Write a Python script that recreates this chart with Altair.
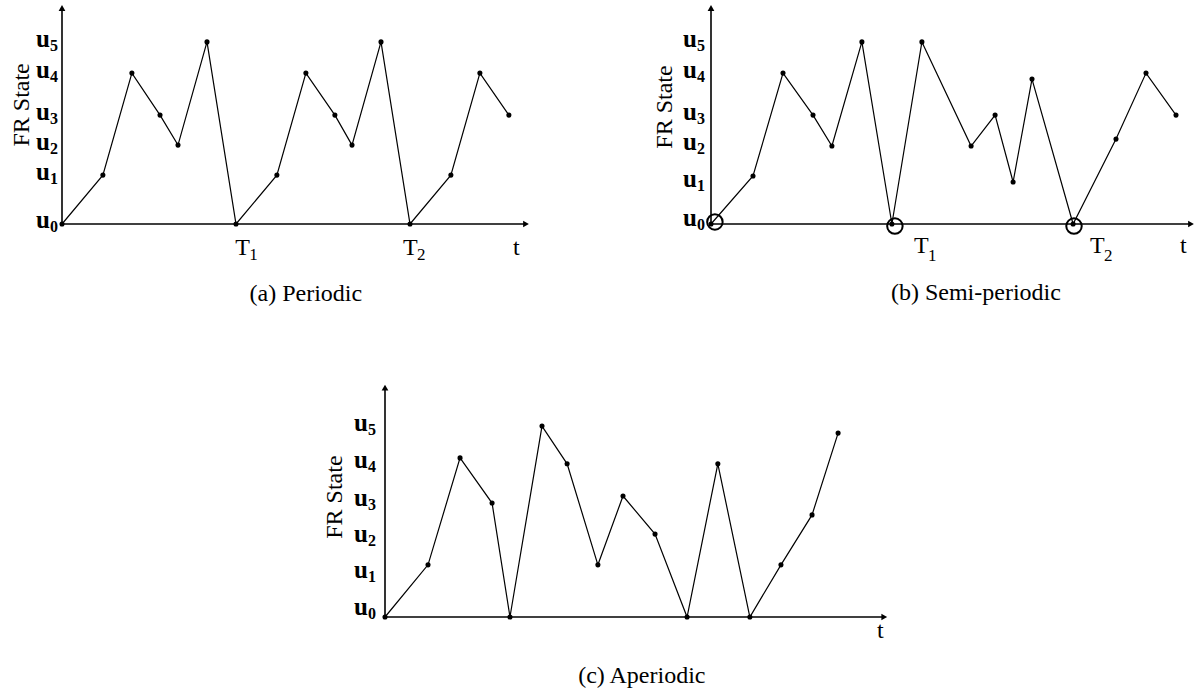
import altair as alt
import pandas as pd

FONT = "Liberation Serif"

# ---------------- data ----------------
# (a) Periodic
a_t = [0, 1.41, 2.41, 3.38, 4.0, 5.0, 6.0, 7.41, 8.41, 9.41, 10.0, 11.0, 12.0, 13.41, 14.41, 15.41]
a_v = [0, 1.63, 5.03, 3.63, 2.63, 6.07, 0, 1.63, 5.03, 3.63, 2.63, 6.07, 0, 1.63, 5.03, 3.63]
a_ticks = [0.03, 1.63, 2.63, 3.63, 5.03, 6.07]
a_tlab_t = [5.97, 11.76, 15.55]

# (b) Semi-periodic
b_t = [0, 1.4, 2.4, 3.4, 4.03, 5.03, 6.03, 7.03, 8.67, 9.47, 10.07, 10.7, 12.07, 13.5, 14.5, 15.5]
b_v = [0, 1.6, 5.03, 3.63, 2.6, 6.07, 0, 6.07, 2.6, 3.63, 1.4, 4.83, 0, 2.83, 5.03, 3.63]
b_ticks = [0.1, 1.4, 2.63, 3.63, 5.03, 6.07]
b_tlab_t = [6.77, 12.63, 15.63]
b_circ_t = [0.13, 6.13, 12.1]
b_circ_v = [0.07, -0.07, -0.07]

# (c) Aperiodic
c_t = [0, 1.37, 2.39, 3.41, 3.98, 5.0, 5.8, 6.78, 7.58, 8.6, 9.62, 10.6, 11.62, 12.61, 13.6, 14.43]
c_v = [0, 1.41, 4.3, 3.08, 0, 5.16, 4.14, 1.41, 3.27, 2.24, 0, 4.14, 0, 1.41, 2.76, 4.97]
c_ticks = [0.19, 1.19, 2.16, 3.14, 4.16, 5.16]
c_tlab_t = [15.67]

state_subs = ["0", "1", "2", "3", "4", "5"]
a_tlab = ["T", "T", "t"]
a_tsub = ["1", "2", ""]
c_tlab = ["t"]
c_tsub = [""]


def panel(W, H, ox, oy, sx, sy, t, v, ticks, ugap, tl_t, tl_txt, tl_sub,
          tl_dy, tl_sub_dy, cap, cap_t, cap_dy, x_end, y_top, fr_px, fr_v,
          circ_t=None, circ_v=None):
    xs = alt.Scale(domain=[-ox / sx, (W - ox) / sx], nice=False, zero=False)
    ys = alt.Scale(domain=[-(H - oy) / sy, oy / sy], nice=False, zero=False)

    def X(f):
        return alt.X(f, type="quantitative", scale=xs, axis=None)

    def Y(f):
        return alt.Y(f, type="quantitative", scale=ys, axis=None)

    axes = pd.DataFrame({"x": [0, 0], "y": [0, 0], "x2": [x_end, 0], "y2": [0, y_top]})
    rules = alt.Chart(axes).mark_rule(color="black", strokeWidth=1.6).encode(
        x=X("x"), y=Y("y"), x2="x2:Q", y2="y2:Q")

    heads = pd.DataFrame({"x": [x_end, 0], "y": [0, y_top],
                          "shape": ["triangle-right", "triangle-up"]})
    arrow = alt.Chart(heads).mark_point(filled=True, size=45, color="black",
                                        opacity=1, strokeWidth=0).encode(
        x=X("x"), y=Y("y"), shape=alt.Shape("shape:N", scale=None))

    df = pd.DataFrame({"i": list(range(len(t))), "t": t, "v": v})
    line = alt.Chart(df).mark_line(color="black", strokeWidth=1.2).encode(
        x=X("t"), y=Y("v"), order="i:Q")
    pts = alt.Chart(df).mark_circle(size=26, color="black", opacity=1).encode(
        x=X("t"), y=Y("v"))

    ud = pd.DataFrame({"x": [0] * len(ticks), "v": ticks, "u": ["u"] * len(ticks),
                       "s": state_subs})
    ulab = alt.Chart(ud).mark_text(align="right", baseline="alphabetic", dx=-ugap, dy=5,
                                   font=FONT, fontSize=25, fontWeight="bold",
                                   color="black").encode(x=X("x"), y=Y("v"), text="u:N")
    usub = alt.Chart(ud).mark_text(align="left", baseline="alphabetic", dx=-ugap, dy=9,
                                   font=FONT, fontSize=16, fontWeight="bold",
                                   color="black").encode(x=X("x"), y=Y("v"), text="s:N")

    frd = pd.DataFrame({"x": [fr_px / sx], "v": [fr_v], "txt": ["FR State"]})
    fr = alt.Chart(frd).mark_text(angle=270, align="center", baseline="middle",
                                  font=FONT, fontSize=24, color="black").encode(
        x=X("x"), y=Y("v"), text="txt:N")

    td = pd.DataFrame({"t": tl_t, "v": [0] * len(tl_t), "m": tl_txt, "s": tl_sub})
    tmain = alt.Chart(td).mark_text(align="left", baseline="alphabetic", dy=tl_dy,
                                    font=FONT, fontSize=24, color="black").encode(
        x=X("t"), y=Y("v"), text="m:N")
    tsub = alt.Chart(td).mark_text(align="left", baseline="alphabetic", dx=14, dy=tl_sub_dy,
                                   font=FONT, fontSize=17, color="black").encode(
        x=X("t"), y=Y("v"), text="s:N")

    cd = pd.DataFrame({"t": [cap_t], "v": [0], "txt": [cap]})
    capm = alt.Chart(cd).mark_text(align="center", baseline="alphabetic", dy=cap_dy,
                                   font=FONT, fontSize=24, color="black").encode(
        x=X("t"), y=Y("v"), text="txt:N")

    layers = [rules, arrow, line, pts, ulab, usub, fr, tmain, tsub, capm]
    if circ_t is not None:
        ccd = pd.DataFrame({"t": circ_t, "v": circ_v})
        circ = alt.Chart(ccd).mark_point(shape="circle", filled=False, size=240,
                                         color="black", strokeWidth=2, opacity=1).encode(
            x=X("t"), y=Y("v"))
        layers.append(circ)
    return alt.layer(*layers).properties(width=W, height=H)


A = panel(640, 310, 62, 224, 29, 30, a_t, a_v, a_ticks, 12,
          a_tlab_t, a_tlab, a_tsub, 31, 36, "(a) Periodic", 8.41, 77,
          16.0, 7.2, -40, 3.97)
B = panel(558, 310, 71, 224, 30, 30, b_t, b_v, b_ticks, 14,
          b_tlab_t, a_tlab, a_tsub, 29, 37, "(b) Semi-periodic", 8.83, 76,
          16.0, 7.2, -46, 3.9, b_circ_t, b_circ_v)
C = panel(1198, 384, 385, 307, 31.4, 37, c_t, c_v, c_ticks, 17,
          c_tlab_t, c_tlab, c_tsub, 21, 26, "(c) Aperiodic", 8.18, 66,
          15.9, 6.2, -50, 3.24)

chart = alt.vconcat(
    alt.hconcat(A, B, spacing=0, bounds="flush"),
    C, spacing=0
).properties(padding=0, background="white").configure_view(stroke=None)

chart.save("out.html", embed_options={"renderer": "svg", "actions": False})
